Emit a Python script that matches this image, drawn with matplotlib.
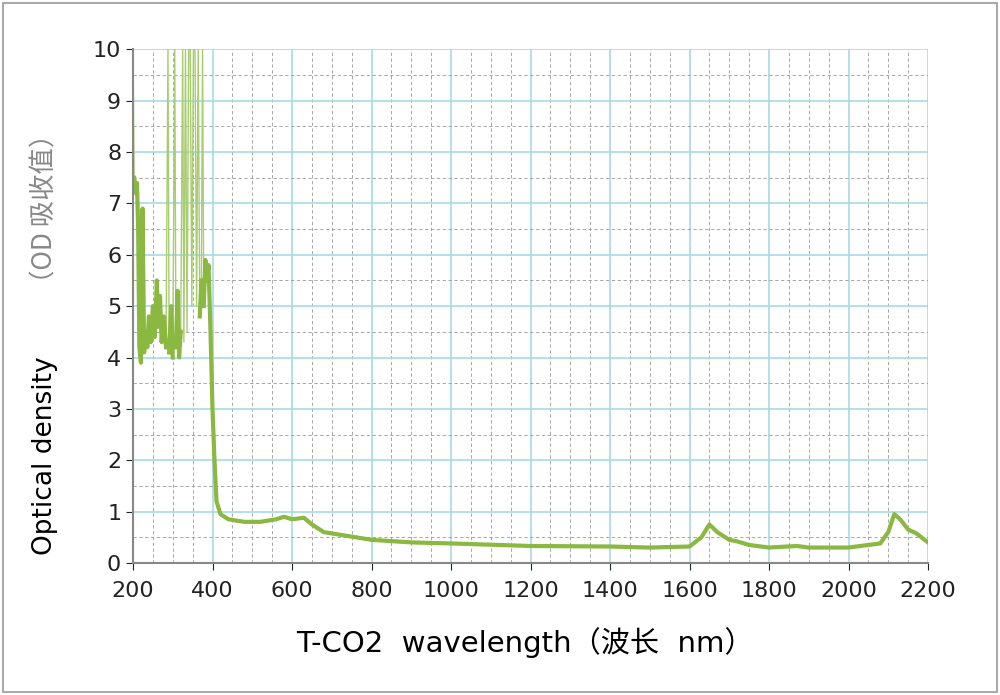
import matplotlib
matplotlib.use("Agg")
import matplotlib.pyplot as plt
import numpy as np
from matplotlib.patches import Rectangle

wl = [200,203,207,210,213,216,220,224,228,232,236,240,245,250,255,260,263,268,272,278,283,288,291,296,300,305,308,312,316,320,325,328,332,336,340,344,348,352,356,360,364,368,372,375,378,382,386,390,395,400,405,410,420,440,480,520,560,580,600,630,650,680,720,800,900,1000,1200,1400,1500,1600,1630,1650,1670,1700,1720,1750,1800,1870,1900,2000,2080,2100,2115,2130,2150,2170,2200]
od = [10,7.5,7.2,7.4,6.5,4.2,3.9,6.9,4.1,4.5,4.2,4.8,4.3,5.0,4.4,5.5,4.6,5.2,4.3,4.8,4.2,10,4.1,5.0,4.0,10,4.2,5.3,4.0,4.5,10,4.3,10,4.5,10,10,5.0,10,10,5.0,10,4.8,5.5,10,5.0,5.9,5.5,5.8,4.5,3.0,2.0,1.2,0.95,0.85,0.8,0.8,0.85,0.9,0.85,0.88,0.75,0.6,0.55,0.45,0.4,0.38,0.33,0.32,0.3,0.32,0.5,0.75,0.6,0.45,0.42,0.35,0.3,0.33,0.3,0.3,0.38,0.6,0.95,0.85,0.65,0.58,0.4]
xticks = list(range(200, 2201, 200))
yticks = list(range(0, 11))

plt.rcParams['font.family'] = ['DejaVu Sans', 'Noto Sans CJK SC']
fig = plt.figure(figsize=(10, 6.95), dpi=100)
fig.patches.append(Rectangle((0.003, 0.004), 0.994, 0.992, transform=fig.transFigure,
                             fill=False, edgecolor='#aaaaaa', lw=1.5))
ax = fig.add_axes([0.133, 0.19, 0.795, 0.739])
ax.set_xlim(200, 2200); ax.set_ylim(0, 10)
ax.set_xticks(xticks); ax.set_yticks(yticks)
ax.set_xticks(range(200, 2201, 50), minor=True)
ax.set_yticks([i + 0.5 for i in range(10)], minor=True)
ax.grid(which='major', color='#a8d8e8', lw=1.2)
ax.grid(which='minor', color='#999999', lw=0.6, ls=(0, (4, 3)))
ax.set_axisbelow(True)
x = np.array(wl, float); y = np.array(od, float)
ax.plot(x, y, color='#a8cc70', lw=1.0)
thick = np.ma.masked_where(y > 7.6, y)
ax.plot(x, thick, color='#8ab840', lw=3, solid_joinstyle='round')
for s in ['top', 'right']:
    ax.spines[s].set_visible(False)
for s in ['left', 'bottom']:
    ax.spines[s].set_color('#888888'); ax.spines[s].set_linewidth(1.5)
ax.tick_params(labelsize=16, colors='#222222', length=5)
ax.tick_params(axis='x', pad=8)
ax.tick_params(which='minor', length=0)
fig.text(0.525, 0.075, 'T-CO2  wavelength（波长  nm）', ha='center', va='center', fontsize=21,
         family=['DejaVu Sans', 'Noto Sans CJK SC'])
fig.text(0.045, 0.345, 'Optical density', rotation=90, ha='center', va='center', fontsize=19)
fig.text(0.045, 0.70, '（OD 吸收值）', rotation=90, ha='center', va='center', fontsize=19,
         color='#888888', family=['Noto Sans CJK SC', 'DejaVu Sans'])
fig.savefig('out.png', dpi=100)
